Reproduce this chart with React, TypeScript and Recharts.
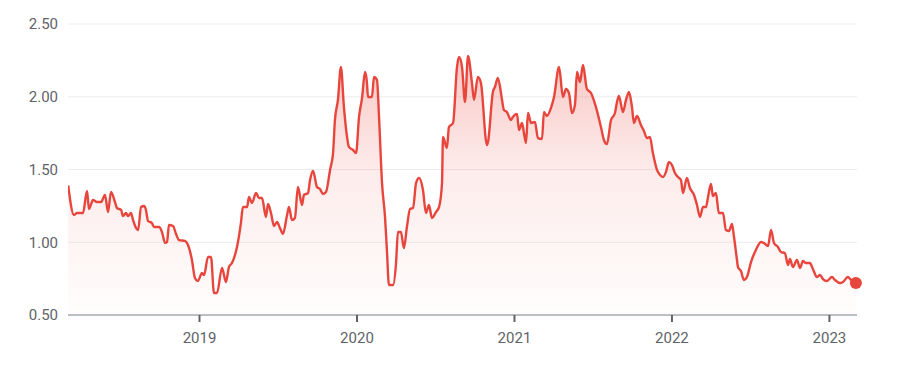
import React from "react";
import { ComposedChart, Area, XAxis, YAxis, CartesianGrid, ReferenceDot } from "recharts";

const dates = [
  2018.166, 2018.203, 2018.222, 2018.260, 2018.286, 2018.298, 2018.324, 2018.349, 2018.375, 2018.400,
  2018.419, 2018.438, 2018.463, 2018.476, 2018.502, 2018.514, 2018.533, 2018.546, 2018.565, 2018.578,
  2018.597, 2018.610, 2018.629, 2018.648, 2018.660, 2018.673, 2018.698, 2018.711, 2018.743, 2018.762,
  2018.781, 2018.794, 2018.806, 2018.832, 2018.851, 2018.870, 2018.908, 2018.927, 2018.952, 2018.971,
  2018.990, 2019.016, 2019.029, 2019.054, 2019.073, 2019.092, 2019.111, 2019.143, 2019.168, 2019.187,
  2019.206, 2019.238, 2019.263, 2019.276, 2019.302, 2019.314, 2019.333, 2019.359, 2019.378, 2019.397,
  2019.422, 2019.435, 2019.454, 2019.473, 2019.492, 2019.511, 2019.530, 2019.556, 2019.568, 2019.587,
  2019.606, 2019.625, 2019.651, 2019.663, 2019.689, 2019.702, 2019.721, 2019.746, 2019.765, 2019.784,
  2019.803, 2019.829, 2019.848, 2019.860, 2019.879, 2019.898, 2019.917, 2019.937, 2019.949, 2019.975,
  2019.994, 2020.013, 2020.032, 2020.051, 2020.063, 2020.070, 2020.095, 2020.108, 2020.127, 2020.140,
  2020.159, 2020.178, 2020.190, 2020.203, 2020.229, 2020.248, 2020.260, 2020.279, 2020.298, 2020.317,
  2020.337, 2020.356, 2020.375, 2020.394, 2020.419, 2020.438, 2020.457, 2020.476, 2020.502, 2020.521,
  2020.540, 2020.546, 2020.571, 2020.584, 2020.610, 2020.635, 2020.648, 2020.667, 2020.686, 2020.705,
  2020.730, 2020.743, 2020.768, 2020.787, 2020.825, 2020.832, 2020.863, 2020.876, 2020.895, 2020.921,
  2020.933, 2020.952, 2020.978, 2020.990, 2021.016, 2021.029, 2021.048, 2021.060, 2021.073, 2021.086,
  2021.105, 2021.130, 2021.149, 2021.175, 2021.187, 2021.206, 2021.232, 2021.251, 2021.283, 2021.308,
  2021.327, 2021.346, 2021.365, 2021.384, 2021.397, 2021.416, 2021.435, 2021.460, 2021.486, 2021.517,
  2021.549, 2021.568, 2021.587, 2021.613, 2021.638, 2021.651, 2021.663, 2021.689, 2021.708, 2021.727,
  2021.746, 2021.759, 2021.778, 2021.803, 2021.822, 2021.841, 2021.860, 2021.879, 2021.905, 2021.924,
  2021.943, 2021.962, 2021.981, 2022.000, 2022.019, 2022.038, 2022.057, 2022.070, 2022.095, 2022.114,
  2022.140, 2022.159, 2022.178, 2022.197, 2022.216, 2022.229, 2022.248, 2022.260, 2022.279, 2022.298,
  2022.324, 2022.343, 2022.362, 2022.381, 2022.394, 2022.413, 2022.419, 2022.438, 2022.457, 2022.476,
  2022.502, 2022.533, 2022.565, 2022.584, 2022.610, 2022.629, 2022.648, 2022.673, 2022.692, 2022.717,
  2022.737, 2022.749, 2022.768, 2022.794, 2022.813, 2022.832, 2022.851, 2022.876, 2022.895, 2022.921,
  2022.940, 2022.959, 2022.984, 2023.016, 2023.035, 2023.067, 2023.086, 2023.117, 2023.137, 2023.168,
];

const prices = [
  1.39, 1.187, 1.201, 1.201, 1.352, 1.229, 1.29, 1.277, 1.277, 1.325,
  1.208, 1.345, 1.277, 1.235, 1.222, 1.18, 1.201, 1.18, 1.201, 1.153,
  1.098, 1.084, 1.242, 1.249, 1.222, 1.146, 1.132, 1.105, 1.105, 1.07,
  0.995, 1.002, 1.119, 1.112, 1.057, 1.015, 1.009, 0.981, 0.878, 0.754,
  0.734, 0.789, 0.775, 0.899, 0.899, 0.651, 0.651, 0.823, 0.727, 0.83,
  0.857, 0.967, 1.132, 1.242, 1.242, 1.311, 1.27, 1.338, 1.304, 1.304,
  1.174, 1.263, 1.201, 1.112, 1.139, 1.098, 1.057, 1.187, 1.242, 1.153,
  1.167, 1.38, 1.256, 1.325, 1.338, 1.428, 1.49, 1.38, 1.366, 1.332,
  1.345, 1.497, 1.613, 1.84, 1.978, 2.204, 1.93, 1.723, 1.655, 1.634,
  1.613, 1.861, 1.991, 2.17, 2.101, 1.998, 1.998, 2.136, 2.115, 1.861,
  1.407, 1.174, 0.947, 0.706, 0.706, 0.857, 1.07, 1.07, 0.96, 1.105,
  1.229, 1.235, 1.407, 1.442, 1.359, 1.201, 1.256, 1.167, 1.208, 1.242,
  1.407, 1.723, 1.648, 1.792, 1.82, 2.204, 2.273, 2.204, 1.964, 2.28,
  2.095, 1.978, 2.136, 2.095, 1.668, 1.689, 2.033, 2.067, 2.129, 1.978,
  1.909, 1.895, 1.84, 1.861, 1.881, 1.771, 1.82, 1.751, 1.682, 1.888,
  1.82, 1.826, 1.716, 1.71, 1.895, 1.868, 1.923, 1.998, 2.204, 1.998,
  2.053, 2.026, 1.888, 1.943, 2.17, 2.101, 2.218, 2.053, 2.026, 1.93,
  1.792, 1.703, 1.675, 1.84, 1.888, 1.964, 2.005, 1.895, 1.978, 2.033,
  1.93, 1.82, 1.868, 1.806, 1.765, 1.716, 1.723, 1.613, 1.497, 1.462,
  1.448, 1.483, 1.552, 1.531, 1.476, 1.448, 1.428, 1.338, 1.442, 1.373,
  1.325, 1.256, 1.174, 1.242, 1.242, 1.311, 1.4, 1.318, 1.338, 1.201,
  1.201, 1.084, 1.077, 1.125, 1.036, 0.878, 0.83, 0.802, 0.741, 0.761,
  0.864, 0.947, 1.002, 0.995, 0.974, 1.084, 0.995, 0.967, 0.933, 0.926,
  0.844, 0.885, 0.83, 0.878, 0.823, 0.871, 0.857, 0.857, 0.816, 0.761,
  0.775, 0.747, 0.734, 0.761, 0.741, 0.72, 0.727, 0.761, 0.741, 0.72,
];

const yearTicks = [2019, 2020, 2021, 2022, 2023];
const priceTicks = [0.5, 1.0, 1.5, 2.0, 2.5];

const data = dates.map((t, i) => ({ t, v: prices[i] }));
const last = data[data.length - 1];

const RED = "#e8453c";
const TEXT = "#5f6368";

export default function App() {
  return (
    <div style={{ position: "absolute", left: 0, top: 0, width: 904, height: 368, background: "#fff" }}>
      <ComposedChart
        width={904}
        height={368}
        data={data}
        margin={{ top: 24, right: 47, bottom: 23, left: 0 }}
      >
        <defs>
          <linearGradient id="fillGrad" x1="0" y1="0" x2="0" y2="1">
            <stop offset="0%" stopColor={RED} stopOpacity={0.3} />
            <stop offset="45%" stopColor={RED} stopOpacity={0.1} />
            <stop offset="100%" stopColor={RED} stopOpacity={0.01} />
          </linearGradient>
        </defs>
        <CartesianGrid vertical={false} stroke="#ececec" strokeWidth={1} />
        <XAxis
          dataKey="t"
          type="number"
          domain={[2018.165, 2023.175]}
          ticks={yearTicks}
          allowDataOverflow
          height={30}
          axisLine={{ stroke: "#a8acb0", strokeWidth: 1.5 }}
          tickLine={{ stroke: "#5f6368", strokeWidth: 2 }}
          tickSize={7}
          tickMargin={10}
          tick={{ fill: TEXT, fontSize: 15, fontFamily: "Roboto, sans-serif" }}
          tickFormatter={(v: number) => String(Math.round(v))}
        />
        <YAxis
          type="number"
          domain={[0.5, 2.5]}
          ticks={priceTicks}
          width={68}
          axisLine={false}
          tickLine={false}
          tickSize={0}
          tickMargin={10}
          tick={{ fill: TEXT, fontSize: 15, fontFamily: "Roboto, sans-serif" }}
          tickFormatter={(v: number) => v.toFixed(2)}
        />
        <Area
          type="monotone"
          dataKey="v"
          stroke={RED}
          strokeWidth={2.4}
          fill="url(#fillGrad)"
          fillOpacity={1}
          dot={false}
          activeDot={false}
          isAnimationActive={false}
        />
        <ReferenceDot x={last.t} y={last.v} r={6} fill={RED} stroke="none" />
      </ComposedChart>
    </div>
  );
}
